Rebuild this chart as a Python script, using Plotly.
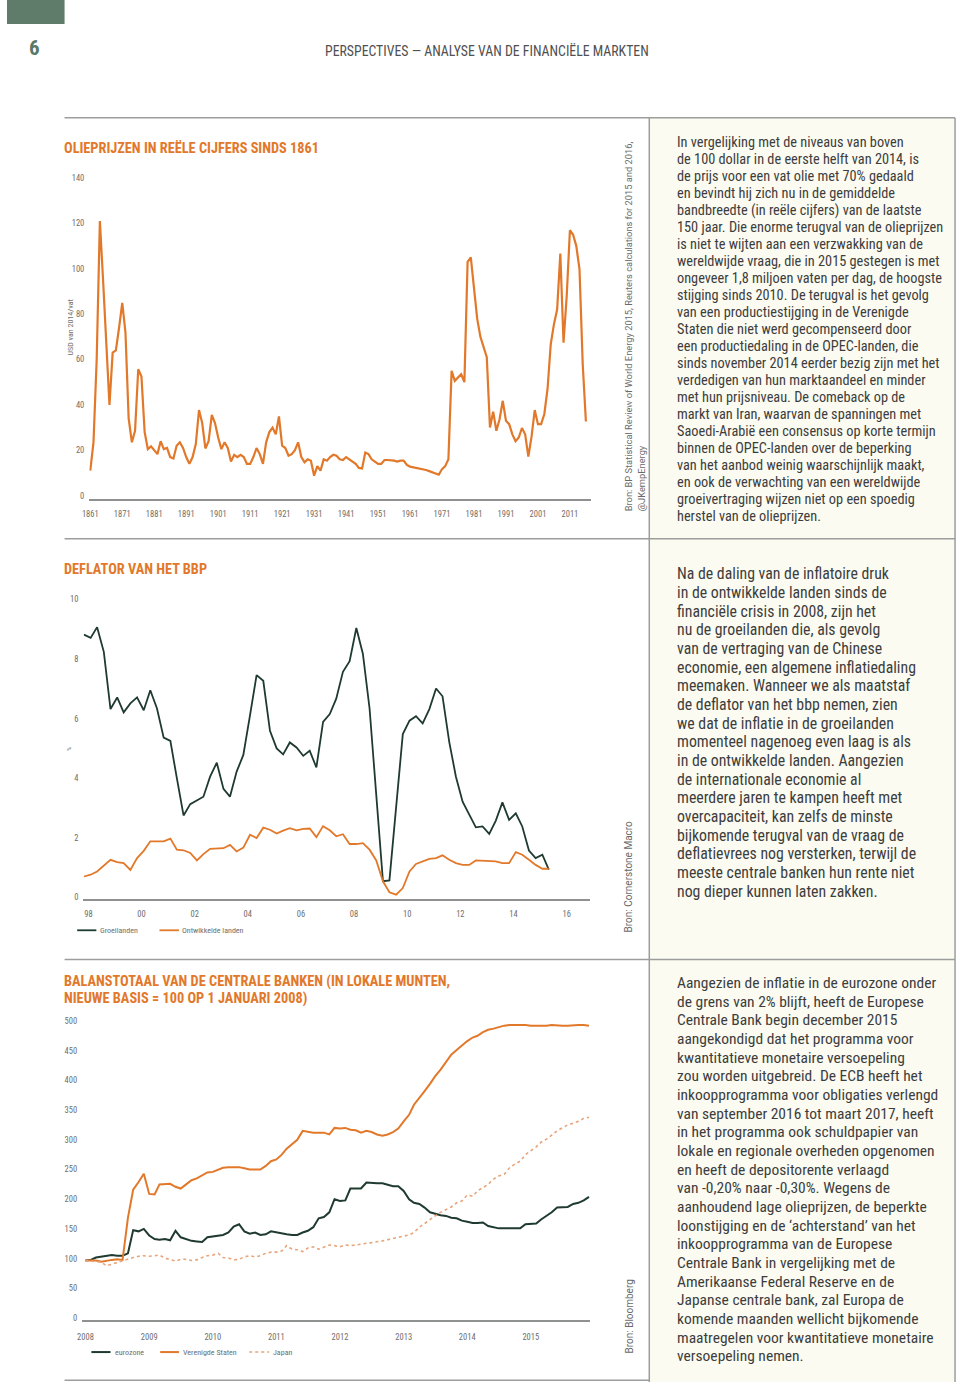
import plotly.graph_objects as go
import pandas as pd

# ---------------- DATA ----------------
OIL_YEARS = list(range(1861, 2017))
OIL_PRICE = [
    11, 23.5, 60, 121, 95, 68, 40, 63, 64, 74,
    85, 72, 34, 23.5, 28.6, 55.7, 52.5, 28, 20.5, 21.7,
    20, 18.3, 24, 20.5, 21, 17, 16.4, 22, 23.5, 21,
    17, 14, 17, 22.7, 37.7, 32, 20.8, 24, 35.6, 32,
    25.6, 20.5, 23.5, 21, 15, 18, 17, 18, 17, 14,
    14, 17, 21, 18.3, 14, 23.5, 28, 30, 27, 34.9,
    22, 21, 17.6, 18.3, 20, 23.5, 17, 14.7, 16, 15.4,
    8.8, 13, 11, 16, 15.4, 17, 18, 17.6, 16, 15.7,
    17, 16, 15.2, 14, 12.2, 12, 19, 18.3, 16, 15,
    14, 14, 15.7, 15.7, 15.7, 15.4, 15, 15.4, 15.4, 13.5,
    12.8, 12.5, 12.5, 12.2, 11.7, 11.3, 10.8, 10.3, 9.8, 9.2,
    11.7, 13, 16, 55, 50.6, 52, 53.5, 50, 103, 105,
    92, 78, 70, 65, 61, 30, 37, 28.6, 33.7, 41.8,
    33, 31.5, 27, 24, 25.6, 29.8, 27, 17.2, 26, 37.7,
    31.5, 31.5, 36, 47, 66.7, 75.5, 82, 106.7, 67.4, 88,
    117, 115, 110, 99.7, 58, 32.7,
]
OIL_TICKS = [1861, 1871, 1881, 1891, 1901, 1911, 1921, 1931, 1941, 1951,
             1961, 1971, 1981, 1991, 2001, 2011]
OIL_YTICKS = [0, 20, 40, 60, 80, 100, 120, 140]

DEF_DATES = pd.date_range("1997-11-01", periods=71, freq="3MS")
DEF_GROEI = [
    8.82, 8.71, 9.07, 8.24, 6.32, 6.71, 6.21, 6.51, 6.71, 6.28,
    6.95, 6.34, 5.36, 5.25, 4.0, 2.75, 3.13, 3.25, 3.38, 4.05,
    4.52, 3.64, 3.38, 4.22, 4.78, 6.12, 7.46, 7.27, 5.59, 5.0,
    4.80, 5.2, 5.03, 4.75, 4.92, 4.36, 5.89, 6.15, 6.67, 7.57,
    7.93, 9.04, 8.18, 6.34, 3.4, 0.54, 0.57, 3.0, 5.48, 5.93,
    6.08, 5.84, 6.32, 7.01, 6.75, 5.22, 4.05, 3.21, 2.77, 2.35,
    2.38, 2.13, 2.57, 3.19, 2.6, 2.82, 2.38, 1.57, 1.32, 1.43,
    0.93,
]
DEF_ONTW = [
    0.70, 0.76, 0.87, 1.05, 1.26, 1.18, 1.15, 0.92, 1.32, 1.56,
    1.88, 1.88, 1.88, 1.97, 1.6, 1.58, 1.49, 1.24, 1.45, 1.63,
    1.65, 1.65, 1.76, 1.54, 1.67, 2.1, 1.99, 2.34, 2.27, 2.14,
    2.24, 2.32, 2.25, 2.30, 2.31, 2.02, 2.39, 2.25, 2.05, 2.12,
    1.79, 1.79, 1.82, 1.6, 1.24, 0.54, 0.17, 0.09, 0.31, 0.87,
    1.12, 1.21, 1.29, 1.32, 1.41, 1.26, 1.15, 1.09, 1.09, 1.24,
    1.23, 1.21, 1.21, 1.15, 1.15, 1.52, 1.43, 1.26, 1.09, 0.96,
    0.96,
]
DEF_TICK_DATES = ["1998-01-01", "2000-01-01", "2002-01-01", "2004-01-01", "2006-01-01",
                  "2008-01-01", "2010-01-01", "2012-01-01", "2014-01-01", "2016-01-01"]
DEF_TICK_TEXT = ["98", "00", "02", "04", "06", "08", "10", "12", "14", "16"]
DEF_YTICKS = [0, 2, 4, 6, 8, 10]

CB_DATES = pd.date_range("2008-01-01", periods=96, freq="MS")
CB_US = [
    97, 97, 97, 95, 97, 98, 99, 98, 169, 216,
    229, 243, 209, 208, 225, 225, 226, 221, 218, 225,
    232, 235, 240, 245, 246, 250, 253, 254, 254, 254,
    252, 250, 250, 250, 256, 264, 267, 275, 285, 293,
    300, 315, 313, 312, 312, 312, 309, 320, 319, 320,
    317, 316, 312, 315, 313, 309, 307, 309, 313, 319,
    331, 342, 359, 370, 382, 394, 407, 418, 431, 443,
    451, 459, 466, 472, 475, 481, 485, 487, 490, 492,
    493, 493, 494, 493, 492, 492, 491, 492, 493, 492,
    492, 492, 493, 493, 493, 492,
]
CB_EURO = [
    97, 98, 102, 103, 104, 106, 105, 105, 109, 148,
    146, 150, 139, 133, 132, 133, 131, 147, 136, 133,
    130, 129, 128, 136, 137, 139, 140, 144, 154, 158,
    146, 142, 144, 140, 141, 146, 144, 142, 141, 140,
    140, 144, 147, 153, 168, 170, 178, 200, 197, 198,
    218, 218, 218, 228, 227, 227, 227, 224, 222, 222,
    214, 200, 194, 192, 186, 178, 175, 173, 172, 169,
    168, 164, 162, 160, 160, 161, 155, 153, 151, 151,
    151, 151, 151, 158, 159, 159, 166, 172, 178, 186,
    186, 187, 192, 194, 198, 204,
]
CB_JAPAN = [
    97, 96, 95, 94, 88, 91, 94, 96, 99, 102,
    104, 105, 104, 105, 106, 101, 99, 96, 99, 99,
    97, 98, 102, 105, 106, 109, 102, 101, 98, 99,
    103, 105, 103, 105, 109, 111, 111, 113, 122, 116,
    115, 112, 118, 120, 116, 120, 123, 122, 120, 123,
    122, 123, 125, 126, 127, 128, 130, 132, 134, 136,
    137, 140, 144, 153, 159, 166, 172, 178, 182, 187,
    194, 197, 207, 205, 214, 220, 225, 234, 239, 242,
    253, 259, 264, 275, 282, 288, 296, 301, 308, 315,
    320, 325, 328, 331, 336, 338,
]
CB_TICK_DATES = ["2008-01-01", "2009-01-01", "2010-01-01", "2011-01-01",
                 "2012-01-01", "2013-01-01", "2014-01-01", "2015-01-01"]
CB_TICK_TEXT = ["2008", "2009", "2010", "2011", "2012", "2013", "2014", "2015"]
CB_YTICKS = [0, 50, 100, 150, 200, 250, 300, 350, 400, 450, 500]

TEXT1 = [
    "In vergelijking met de niveaus van boven",
    "de 100 dollar in de eerste helft van 2014, is",
    "de prijs voor een vat olie met 70% gedaald",
    "en bevindt hij zich nu in de gemiddelde",
    "bandbreedte (in reële cijfers) van de laatste",
    "150 jaar. Die enorme terugval van de olieprijzen",
    "is niet te wijten aan een verzwakking van de",
    "wereldwijde vraag, die in 2015 gestegen is met",
    "ongeveer 1,8 miljoen vaten per dag, de hoogste",
    "stijging sinds 2010. De terugval is het gevolg",
    "van een productiestijging in de Verenigde",
    "Staten die niet werd gecompenseerd door",
    "een productiedaling in de OPEC-landen, die",
    "sinds november 2014 eerder bezig zijn met het",
    "verdedigen van hun marktaandeel en minder",
    "met hun prijsniveau. De comeback op de",
    "markt van Iran, waarvan de spanningen met",
    "Saoedi-Arabië een consensus op korte termijn",
    "binnen de OPEC-landen over de beperking",
    "van het aanbod weinig waarschijnlijk maakt,",
    "en ook de verwachting van een wereldwijde",
    "groeivertraging wijzen niet op een spoedig",
    "herstel van de olieprijzen.",
]
TEXT2 = [
    "Na de daling van de inflatoire druk",
    "in de ontwikkelde landen sinds de",
    "financiële crisis in 2008, zijn het",
    "nu de groeilanden die, als gevolg",
    "van de vertraging van de Chinese",
    "economie, een algemene inflatiedaling",
    "meemaken. Wanneer we als maatstaf",
    "de deflator van het bbp nemen, zien",
    "we dat de inflatie in de groeilanden",
    "momenteel nagenoeg even laag is als",
    "in de ontwikkelde landen. Aangezien",
    "de internationale economie al",
    "meerdere jaren te kampen heeft met",
    "overcapaciteit, kan zelfs de minste",
    "bijkomende terugval van de vraag de",
    "deflatievrees nog versterken, terwijl de",
    "meeste centrale banken hun rente niet",
    "nog dieper kunnen laten zakken.",
]
TEXT3 = [
    "Aangezien de inflatie in de eurozone onder",
    "de grens van 2% blijft, heeft de Europese",
    "Centrale Bank begin december 2015",
    "aangekondigd dat het programma voor",
    "kwantitatieve monetaire versoepeling",
    "zou worden uitgebreid. De ECB heeft het",
    "inkoopprogramma voor obligaties verlengd",
    "van september 2016 tot maart 2017, heeft",
    "in het programma ook schuldpapier van",
    "lokale en regionale overheden opgenomen",
    "en heeft de depositorente verlaagd",
    "van -0,20% naar -0,30%. Wegens de",
    "aanhoudend lage olieprijzen, de beperkte",
    "loonstijging en de ‘achterstand’ van het",
    "inkoopprogramma van de Europese",
    "Centrale Bank in vergelijking met de",
    "Amerikaanse Federal Reserve en de",
    "Japanse centrale bank, zal Europa de",
    "komende maanden wellicht bijkomende",
    "maatregelen voor kwantitatieve monetaire",
    "versoepeling nemen.",
]

# ---------------- STYLE ----------------
W, H = 960, 1385
def px(x):
    return x / W
def py(y):
    return 1 - y / H

FONT = "Liberation Sans Narrow, Roboto Condensed, DejaVu Sans Condensed, Arial Narrow, sans-serif"
ORANGE = "#e2782a"
DARK = "#1f3a2f"
JAPAN = "#e6a57a"
TICK = "#6e6e6e"
BODY = "#3d3d3d"
RULE = "#9b9e9c"
AXIS = "#8e918f"

fig = go.Figure()

fig.add_trace(go.Scatter(x=OIL_YEARS, y=OIL_PRICE, mode="lines",
                         line=dict(color=ORANGE, width=2.2), xaxis="x", yaxis="y",
                         showlegend=False, name="Olieprijs"))
fig.add_trace(go.Scatter(x=DEF_DATES, y=DEF_GROEI, mode="lines",
                         line=dict(color=DARK, width=1.8), xaxis="x2", yaxis="y2",
                         showlegend=False, name="Groeilanden"))
fig.add_trace(go.Scatter(x=DEF_DATES, y=DEF_ONTW, mode="lines",
                         line=dict(color=ORANGE, width=1.8), xaxis="x2", yaxis="y2",
                         showlegend=False, name="Ontwikkelde landen"))
fig.add_trace(go.Scatter(x=CB_DATES, y=CB_EURO, mode="lines",
                         line=dict(color=DARK, width=2), xaxis="x3", yaxis="y3",
                         showlegend=False, name="eurozone"))
fig.add_trace(go.Scatter(x=CB_DATES, y=CB_US, mode="lines",
                         line=dict(color=ORANGE, width=2), xaxis="x3", yaxis="y3",
                         showlegend=False, name="Verenigde Staten"))
fig.add_trace(go.Scatter(x=CB_DATES, y=CB_JAPAN, mode="lines",
                         line=dict(color=JAPAN, width=1.6, dash="dot"), xaxis="x3", yaxis="y3",
                         showlegend=False, name="Japan"))

tickfont = dict(family=FONT, size=8.5, color=TICK)
common_x = dict(showline=True, linecolor=AXIS, linewidth=1.5, showgrid=False,
                zeroline=False, ticks="", tickfont=tickfont, tickmode="array",
                ticklabelstandoff=5)
common_y = dict(showline=False, showgrid=False, zeroline=False, ticks="",
                tickfont=tickfont, tickmode="array", ticklabelstandoff=4)

fig.update_layout(
    width=W, height=H, margin=dict(l=0, r=0, t=0, b=0),
    paper_bgcolor="white", plot_bgcolor="rgba(0,0,0,0)",
    showlegend=False,
    xaxis=dict(common_x, domain=[px(82.9), px(588.6)], range=[1860.69, 2017.69],
               tickvals=OIL_TICKS, ticktext=[str(t) for t in OIL_TICKS], anchor="y"),
    yaxis=dict(common_y, domain=[py(500), py(170)], range=[-1.45, 143.7],
               tickvals=OIL_YTICKS, anchor="x"),
    xaxis2=dict(common_x, type="date", domain=[px(77), px(587.5)],
                range=["1997-10-25", "2016-11-20"],
                tickvals=DEF_TICK_DATES, ticktext=DEF_TICK_TEXT, anchor="y2"),
    yaxis2=dict(common_y, domain=[py(901), py(590)], range=[-0.057, 10.36],
                tickvals=DEF_YTICKS, anchor="x2"),
    xaxis3=dict(common_x, type="date", domain=[px(75.7), px(587.5)],
                range=["2007-12-13", "2015-12-08"],
                tickvals=CB_TICK_DATES, ticktext=CB_TICK_TEXT, anchor="y3"),
    yaxis3=dict(common_y, domain=[py(1323.3), py(1010)], range=[-3.86, 522],
                tickvals=CB_YTICKS, anchor="x3"),
)
fig.update_xaxes(ticklabelstandoff=6)
fig.layout.xaxis3.ticklabelstandoff = 8

shapes = []
def rect(x0, y0, x1, y1, fill):
    shapes.append(dict(type="rect", xref="paper", yref="paper", x0=px(x0), x1=px(x1),
                       y0=py(y1), y1=py(y0), fillcolor=fill, line=dict(width=0), layer="below"))
def line(x0, y0, x1, y1, color=RULE, width=1.5, dash="solid"):
    shapes.append(dict(type="line", xref="paper", yref="paper", x0=px(x0), x1=px(x1),
                       y0=py(y0), y1=py(y1), line=dict(color=color, width=width, dash=dash)))

rect(0, 0, 58, 24, "#5f7c6a")
rect(647, 118, 955, 1385, "#fbfbf1")
line(58, 118, 955, 118)
line(58, 540, 955, 540)
line(58, 961.5, 955, 961.5)
line(58, 1383.3, 647, 1383.3)
line(647, 118, 647, 1385)
line(955, 118, 955, 1385)
# legend samples
line(70.7, 932.3, 90, 932.3, DARK, 1.8)
line(153.6, 932.3, 173.2, 932.3, ORANGE, 1.8)
line(85, 1355, 104.3, 1355, DARK, 2)
line(154.3, 1355, 173.2, 1355, ORANGE, 2)
line(244, 1355, 264, 1355, JAPAN, 1.5, "dot")

ann = []
def text(x, y, s, size, color, xanchor="left", yanchor="middle", angle=0, align="left", family=FONT):
    ann.append(dict(xref="paper", yref="paper", x=px(x), y=py(y), text=s, showarrow=False,
                    xanchor=xanchor, yanchor=yanchor, textangle=angle, align=align,
                    borderpad=0, font=dict(family=family, size=size, color=color)))

text(27.5, 48, "<b>6</b>", 21, "#5a7866", xanchor="center")
text(319, 51, "PERSPECTIVES — ANALYSE VAN DE FINANCIËLE MARKTEN", 13.8, "#505050")

TSIZE = 14.3
text(56.5, 148, "<b>OLIEPRIJZEN IN REËLE CIJFERS SINDS 1861</b>", TSIZE, ORANGE)
text(56.5, 570, "<b>DEFLATOR VAN HET BBP</b>", TSIZE, ORANGE)
text(56.5, 984, "<b>BALANSTOTAAL VAN DE CENTRALE BANKEN (IN LOKALE MUNTEN,</b>", TSIZE, ORANGE)
text(56.5, 1000.7, "<b>NIEUWE BASIS = 100 OP 1 JANUARI 2008)</b>", TSIZE, ORANGE)

text(63.6, 328, "USD van 2014/vat", 8, TICK, xanchor="center", angle=-90)
text(61.8, 750, "%", 6, TICK, xanchor="center", angle=-90)

text(92.5, 932.3, "Groeilanden", 8, TICK)
text(175.5, 932.3, "Ontwikkelde landen", 8, TICK)
text(108, 1355, "eurozone", 8, TICK)
text(176.5, 1355, "Verenigde Staten", 8, TICK)
text(267, 1355, "Japan", 8, TICK)

SRC_FONT = "Roboto, Liberation Sans, sans-serif"
text(633, 513, "Bron: BP Statistical Review of World Energy 2015, Reuters calculations for 2015 and 2016,<br>@JKempEnergy",
     9.3, "#6a6a6a", xanchor="center", yanchor="bottom", angle=-90, family=SRC_FONT)
text(627, 935, "Bron: Cornerstone Macro", 10, "#6a6a6a", xanchor="center", yanchor="bottom",
     angle=-90, family=SRC_FONT)
text(627, 1357, "Bron: Bloomberg", 10, "#6a6a6a", xanchor="center", yanchor="bottom",
     angle=-90, family=SRC_FONT)

for i, s in enumerate(TEXT1):
    text(673.5, 142.7 + i * 17.0, s, 14.3, BODY)
for i, s in enumerate(TEXT2):
    text(673.5, 575 + i * 18.72, s, 15.8, BODY)
for i, s in enumerate(TEXT3):
    text(673.5, 985 + i * 18.72, s, 15.5, BODY)

fig.update_layout(shapes=shapes, annotations=ann)
fig.write_html("out.html")
